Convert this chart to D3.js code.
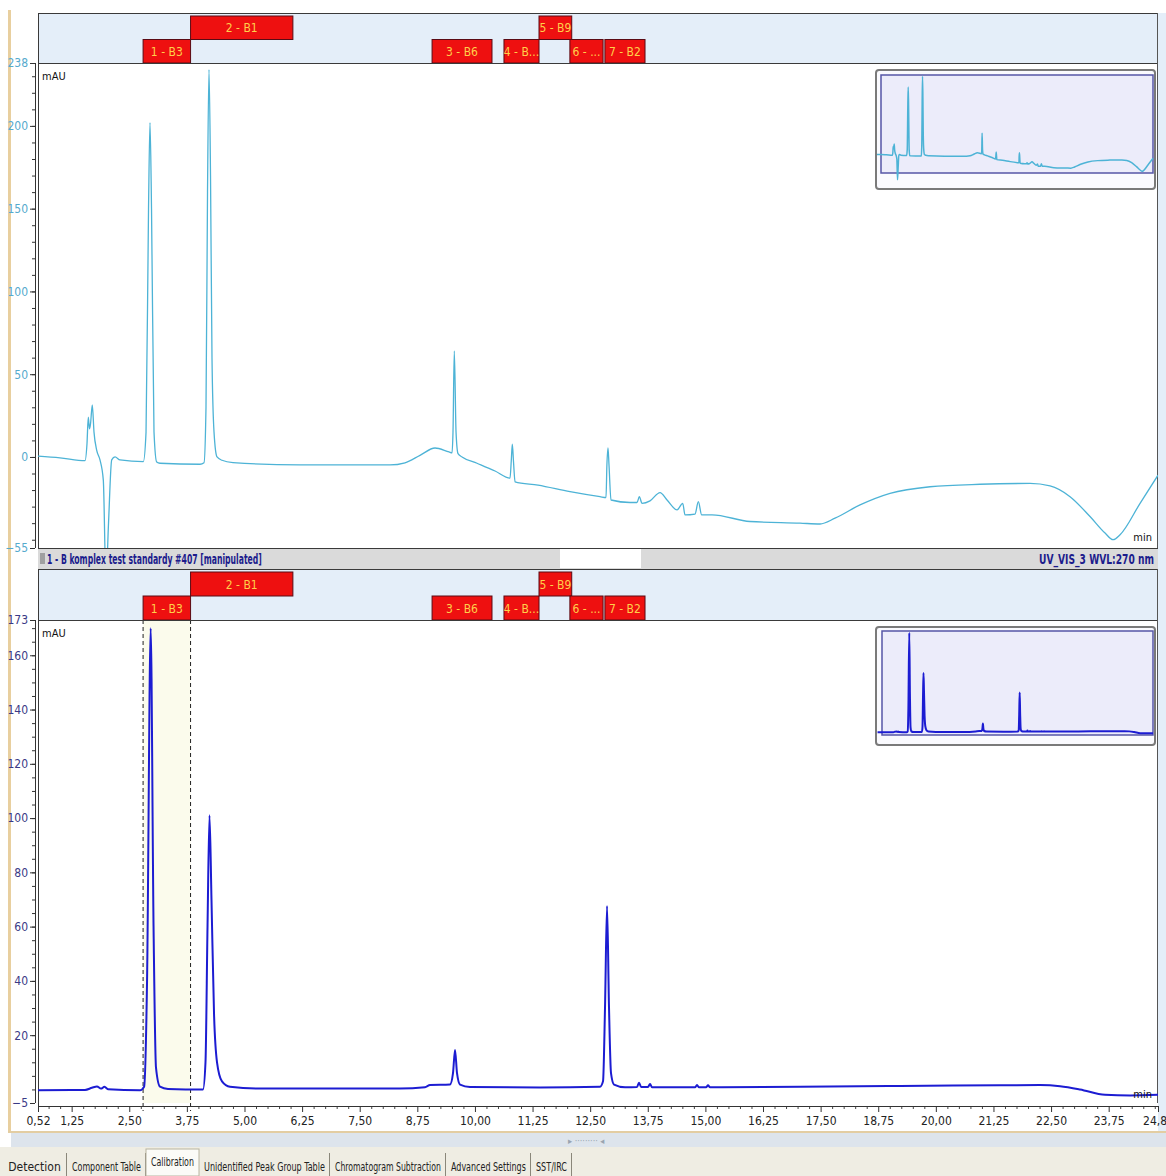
<!DOCTYPE html>
<html>
<head>
<meta charset="utf-8">
<script src="https://cdn.jsdelivr.net/npm/d3@7"></script>
<style>
  body { margin: 0; background: #ffffff; }
  svg { display: block; font-family: 'Liberation Sans Narrow', 'Arial Narrow', 'DejaVu Sans Condensed', sans-serif; }
</style>
</head>
<body>
<svg id="chart" width="1166" height="1176"></svg>
<script>
// ---------- chromatogram data (retention time in min, signal in mAU) ----------
const topTime = [0.520, 0.997, 1.540, 1.583, 1.611, 1.637, 1.659, 1.698, 1.735, 1.794, 1.865, 1.937, 1.995, 2.050, 2.119, 2.191, 2.299, 2.805,
  2.864, 2.918, 2.950, 2.983, 3.037, 3.095, 3.167, 4.035, 4.122, 4.165, 4.198, 4.230, 4.263, 4.295, 4.339, 4.404, 4.512, 4.751,
  6.205, 8.157, 8.483, 8.808, 9.134, 9.438, 9.503, 9.524, 9.552, 9.590, 9.633, 9.720, 10.045, 10.436, 10.761, 10.789, 10.811,
  10.837, 10.870, 11.369, 12.063, 12.714, 12.844, 12.863, 12.887, 12.909, 12.952, 13.365, 13.517, 13.567, 13.625, 13.799,
  14.016, 14.168, 14.385, 14.508, 14.558, 14.775, 14.847, 14.920, 15.144, 15.968, 17.053, 17.487, 17.813, 18.355, 19.006,
  19.874, 20.959, 22.044, 22.478, 22.912, 23.345, 23.671, 23.845, 23.997, 24.431, 24.820];
const topValue = [0.5, -0.5, -2.2, 8, 24, 17, 20, 31.4, 15, 4, -1.8, -14, -75, -40, -1.8, 0, -1.8, -2.8,
  15, 150, 202, 150, 15, -3, -3.8, -4.4, -3.5, 30, 160, 234, 170, 60, 15, 0, -2, -3.4,
  -4.8, -4.8, -3.5, 1, 5.4, 3, 2.5, 15, 64, 15, 2, 0, -3.8, -8.5, -12.8, -2, 7.7,
  -3, -15, -17, -21, -24, -24.5, -5, 5.5, -5, -26, -27.5, -27.5, -24, -28, -26.5,
  -21.5, -26, -32, -28, -35, -34.5, -27, -35, -35, -39, -40, -40.5, -37, -29, -22,
  -18, -16.5, -16, -17.5, -24, -36, -46, -50, -47, -28, -11];

const botTime = [0.520, 1.540, 1.690, 1.800, 1.887, 1.963, 2.039, 2.733, 2.822, 2.886, 2.965, 3.027, 3.080, 3.167, 3.341,
  4.100, 4.154, 4.198, 4.241, 4.284, 4.339, 4.404, 4.512, 4.686, 5.337, 8.374, 8.917, 9.025, 9.459, 9.524, 9.568, 9.611,
  9.677, 9.893, 11.412, 12.714, 12.779, 12.822, 12.866, 12.909, 12.952, 13.018, 13.257, 13.517, 13.560, 13.604, 13.755,
  13.799, 13.842, 14.775, 14.818, 14.862, 15.014, 15.057, 15.101, 17.053, 19.223, 21.393, 22.261, 22.695, 23.129, 23.671,
  24.214, 24.820];
const botValue = [-0.3, -0.2, 0.6, 1.1, 0.3, 1.0, 0.1, -0.3, 1, 40, 170, 60, 8, 1, 0.2,
  0, 10, 60, 101, 70, 28, 10, 3, 1, 0.3, 0.3, 0.8, 1.6, 1.8, 6, 14.5, 6,
  1.8, 0.9, 0.7, 1, 3, 30, 67.6, 30, 6, 1.8, 0.8, 0.9, 2.5, 0.9, 0.9,
  2, 0.8, 0.8, 1.6, 0.8, 0.8, 1.5, 0.8, 1, 1.3, 1.5, 1.6, 1.2, 0, -2,
  -2.2, -2];

// peak identification windows (min) and the row they sit in
const peakLabels = ["1 - B3", "2 - B1", "3 - B6", "4 - B...", "5 - B9", "6 - ...", "7 - B2"];
const peakStart  = [2.80, 3.83, 9.07, 10.63, 11.39, 12.06, 12.82];
const peakEnd    = [3.83, 6.05, 10.37, 11.39, 12.10, 12.78, 13.69];
const peakRow    = [1, 0, 1, 1, 0, 1, 1];

// integration window of the selected peak
const integrationWindow = [2.80, 3.83];

// axis ticks
const xTickValues = [0.52, 1.25, 2.50, 3.75, 5.00, 6.25, 7.50, 8.75, 10.00, 11.25, 12.50, 13.75, 15.00, 16.25, 17.50, 18.75, 20.00, 21.25, 22.50, 23.75, 24.82];
const topTickValues = [238, 200, 150, 100, 50, 0, -55];
const botTickValues = [173, 160, 140, 120, 100, 80, 60, 40, 20, -5];

const sampleTitle = "1 - B komplex test standardy #407 [manipulated]";
const channelTitle = "UV_VIS_3 WVL:270 nm";
const tabNames = ["Detection", "Component Table", "Calibration", "Unidentified Peak Group Table", "Chromatogram Subtraction", "Advanced Settings", "SST/IRC"];

// ---------- layout ----------
const svg = d3.select("#chart");
const L = 38, R = 1158;
const x = d3.scaleLinear().domain([0.52, 24.82]).range([L, R]);

// window background
svg.append("rect").attr("width", 1166).attr("height", 1176).attr("fill", "#ffffff");
svg.append("rect").attr("x", R).attr("y", 13).attr("width", 1166 - R).attr("height", 1118).attr("fill", "#e4eef9");
svg.append("rect").attr("x", 8).attr("y", 10).attr("width", 3).attr("height", 1122).attr("fill", "#e8cf9f");

const defs = svg.append("defs");

const panels = [
  { head: [13, 63], plot: [63, 548], domain: [-55, 238], ticks: topTickValues, minorStep: 10,
    time: topTime, value: topValue, line: "#4db3d6", width: 1.3, label: "#55aacd",
    inset: { outer: [876, 70, 1155, 189], inner: [881, 75, 1153, 173] }, minY: 541, id: "p1" },
  { head: [569, 620], plot: [620, 1103], domain: [-5, 173], ticks: botTickValues, minorStep: 5,
    time: botTime, value: botValue, line: "#1c1cd2", width: 2, label: "#3a3a86",
    inset: { outer: [876, 627, 1155, 745], inner: [882, 631, 1153, 735] }, minY: 1098, id: "p2" }
];

panels.forEach((p, pi) => {
  const y = d3.scaleLinear().domain(p.domain).range([p.plot[1], p.plot[0]]);
  const pts = p.time.map((t, i) => [t, p.value[i]]);

  // header band with peak windows
  svg.append("rect").attr("x", L).attr("y", p.head[0]).attr("width", R - L).attr("height", p.head[1] - p.head[0])
    .attr("fill", "#e4eef9");
  svg.append("line").attr("x1", L).attr("x2", R).attr("y1", p.head[0] + 0.5).attr("y2", p.head[0] + 0.5)
    .attr("stroke", "#3a3a3a").attr("stroke-width", 1.2);
  const rowH = (p.head[1] - p.head[0] - 3) / 2;
  const boxes = svg.append("g");
  peakLabels.forEach((lab, i) => {
    const bx = x(peakStart[i]), bw = x(peakEnd[i]) - x(peakStart[i]);
    const by = p.head[0] + 3 + peakRow[i] * rowH;
    boxes.append("rect").attr("x", bx).attr("y", by).attr("width", bw).attr("height", rowH)
      .attr("fill", "#ee1010").attr("stroke", "#5a0a14").attr("stroke-width", 1);
    boxes.append("text").attr("x", bx + bw / 2).attr("y", by + rowH / 2 + 4.5).attr("text-anchor", "middle")
      .attr("font-size", 12).attr("fill", "#ffcf4a").text(lab);
  });

  // plot area
  svg.append("rect").attr("x", L).attr("y", p.plot[0]).attr("width", R - L).attr("height", p.plot[1] - p.plot[0])
    .attr("fill", "#ffffff");
  defs.append("clipPath").attr("id", "clip-" + p.id).append("rect")
    .attr("x", L).attr("y", p.plot[0]).attr("width", R - L).attr("height", p.plot[1] - p.plot[0]);

  if (pi === 1) {
    // highlighted integration window
    const w0 = x(integrationWindow[0]), w1 = x(integrationWindow[1]);
    svg.append("rect").attr("x", w0).attr("y", p.plot[0]).attr("width", w1 - w0).attr("height", p.plot[1] - p.plot[0])
      .attr("fill", "#fbfbec");
    [w0, w1].forEach(wx => svg.append("line").attr("x1", wx).attr("x2", wx).attr("y1", p.plot[0]).attr("y2", p.plot[1] + 8)
      .attr("stroke", "#222").attr("stroke-width", 1).attr("stroke-dasharray", "4,3"));
  }

  // frame
  svg.append("line").attr("x1", L).attr("x2", R).attr("y1", p.plot[0] + 0.5).attr("y2", p.plot[0] + 0.5).attr("stroke", "#3a3a3a").attr("stroke-width", 1.2);
  svg.append("line").attr("x1", L + 0.5).attr("x2", L + 0.5).attr("y1", p.head[0]).attr("y2", p.plot[1]).attr("stroke", "#3a3a3a");
  svg.append("line").attr("x1", R - 0.5).attr("x2", R - 0.5).attr("y1", p.head[0]).attr("y2", p.plot[1]).attr("stroke", "#555");

  // trace
  const line = d3.line().x(d => x(d[0])).y(d => y(d[1])).curve(d3.curveMonotoneX);
  svg.append("path").datum(pts).attr("d", line).attr("fill", "none").attr("stroke", p.line)
    .attr("stroke-width", p.width).attr("stroke-linejoin", "round").attr("clip-path", "url(#clip-" + p.id + ")");

  // y axis (major + minor)
  const minor = d3.range(Math.ceil(p.domain[0] / p.minorStep) * p.minorStep, p.domain[1], p.minorStep);
  const gMinor = svg.append("g").attr("transform", "translate(35,0)")
    .call(d3.axisLeft(y).tickValues(minor).tickSize(3).tickFormat(""));
  gMinor.select(".domain").remove();
  gMinor.selectAll("line").attr("stroke", "#333");
  const gMajor = svg.append("g").attr("transform", "translate(35,0)")
    .call(d3.axisLeft(y).tickValues(p.ticks).tickSize(5).tickPadding(2).tickSizeOuter(0).tickFormat(d3.format("d")));
  gMajor.select(".domain").attr("stroke", "#333").attr("d", `M0.5,${p.plot[0]}V${p.plot[1]}`);
  gMajor.selectAll("line").attr("stroke", "#333");
  gMajor.selectAll("text").attr("fill", p.label).attr("font-size", 12)
    .attr("font-family", "'Liberation Sans Narrow','Arial Narrow','DejaVu Sans Condensed',sans-serif");

  // unit labels
  svg.append("text").attr("x", 42).attr("y", p.plot[0] + 17).attr("font-size", 11).attr("fill", "#111").text("mAU");
  svg.append("text").attr("x", R - 6).attr("y", p.minY).attr("text-anchor", "end").attr("font-size", 11).attr("fill", "#111").text("min");

  // overview inset
  const o = p.inset.outer, n = p.inset.inner;
  svg.append("rect").attr("x", o[0]).attr("y", o[1]).attr("width", o[2] - o[0]).attr("height", o[3] - o[1]).attr("rx", 3)
    .attr("fill", "#fafafe").attr("stroke", "#7a7a7a").attr("stroke-width", 2);
  svg.append("rect").attr("x", n[0]).attr("y", n[1]).attr("width", n[2] - n[0]).attr("height", n[3] - n[1])
    .attr("fill", "#ececfa").attr("stroke", "#5656a6").attr("stroke-width", 1.5);
  const xi = d3.scaleLinear().domain(x.domain()).range([n[0], n[2]]);
  const yi = d3.scaleLinear().domain(p.domain).range([n[3], n[1]]);
  defs.append("clipPath").attr("id", "clipi-" + p.id).append("rect")
    .attr("x", o[0] + 1).attr("y", o[1] + 1).attr("width", o[2] - o[0] - 2).attr("height", o[3] - o[1] - 2);
  const lineI = d3.line().x(d => xi(d[0])).y(d => yi(d[1])).curve(d3.curveMonotoneX);
  svg.append("path").datum([[x.domain()[0] - 0.4, p.value[0]]].concat(pts)).attr("d", lineI).attr("fill", "none")
    .attr("stroke", p.line).attr("stroke-width", pi === 0 ? 1.5 : 2).attr("clip-path", "url(#clipi-" + p.id + ")");
});

// horizontally condense a text element to a target width, keeping its glyph height
function condense(sel, x0, width) {
  const natural = sel.node().getComputedTextLength();
  const k = Math.min(1, width / natural);
  sel.attr("x", 0).attr("transform", `translate(${x0},0) scale(${k},1)`);
}

// ---------- channel / sample title bar between panels ----------
const bar = svg.append("g");
bar.append("rect").attr("x", L).attr("y", 548).attr("width", R - L).attr("height", 21).attr("fill", "#dadada");
bar.append("rect").attr("x", 560).attr("y", 549).attr("width", 81).attr("height", 19).attr("fill", "#ffffff");
bar.append("line").attr("x1", L).attr("x2", R).attr("y1", 548.5).attr("y2", 548.5).attr("stroke", "#3a3a3a").attr("stroke-width", 1.2);
bar.append("rect").attr("x", 40).attr("y", 553).attr("width", 5).attr("height", 11).attr("fill", "#a0a0a0");
const t1 = bar.append("text").attr("y", 564).attr("font-size", 14).attr("font-weight", "bold").attr("fill", "#1c1c8c").text(sampleTitle);
condense(t1, 47, 215);
const t2 = bar.append("text").attr("y", 564).attr("font-size", 14).attr("font-weight", "bold").attr("fill", "#1c1c8c").text(channelTitle);
condense(t2, 1039, 115);

// ---------- time axis ----------
const xMinor = d3.range(0.75, 24.82, 0.25).filter(v => !xTickValues.some(t => Math.abs(t - v) < 0.01));
const gxMinor = svg.append("g").attr("transform", "translate(0,1106)")
  .call(d3.axisBottom(x).tickValues(xMinor).tickSize(3).tickFormat(""));
gxMinor.select(".domain").remove();
gxMinor.selectAll("line").attr("stroke", "#444");
const gx = svg.append("g").attr("transform", "translate(0,1106)")
  .call(d3.axisBottom(x).tickValues(xTickValues).tickSize(6).tickSizeOuter(0).tickPadding(4)
    .tickFormat(d => d3.format(".2f")(d).replace(".", ",")));
gx.select(".domain").attr("stroke", "#333");
gx.selectAll("line").attr("stroke", "#333");
gx.selectAll("text").attr("fill", "#222").attr("font-size", 12)
  .attr("font-family", "'Liberation Sans Narrow','Arial Narrow','DejaVu Sans Condensed',sans-serif");
svg.append("line").attr("x1", L + 0.5).attr("x2", L + 0.5).attr("y1", 1103).attr("y2", 1106).attr("stroke", "#333");

// ---------- scroll strip and tab bar ----------
svg.append("rect").attr("x", 8).attr("y", 1131).attr("width", 1158).attr("height", 2).attr("fill", "#e3cda2");
svg.append("rect").attr("x", 11).attr("y", 1133).attr("width", 1155).attr("height", 14).attr("fill", "#dde4ec");
svg.append("text").attr("x", 568).attr("y", 1144).attr("font-size", 9).attr("fill", "#9aa4b0").text("▸  ·········  ◂");
svg.append("rect").attr("x", 0).attr("y", 1147).attr("width", 1166).attr("height", 29).attr("fill", "#efede3");

const tabEdges = [2, 67, 146, 199, 330, 446, 531, 572];
const tabs = svg.append("g");
tabNames.forEach((name, i) => {
  const x0 = tabEdges[i], x1 = tabEdges[i + 1];
  const active = name === "Calibration";
  if (active) {
    tabs.append("rect").attr("x", x0).attr("y", 1149).attr("width", x1 - x0).attr("height", 27).attr("fill", "#fbfbf7")
      .attr("stroke", "#b8b4a0");
  } else {
    tabs.append("line").attr("x1", x1 - 0.5).attr("x2", x1 - 0.5).attr("y1", 1153).attr("y2", 1176).attr("stroke", "#8a877a");
  }
  const t = tabs.append("text").attr("y", active ? 1166 : 1171).attr("font-size", 12).attr("fill", "#222").text(name);
  const avail = x1 - x0 - 10;
  const w = Math.min(avail, t.node().getComputedTextLength());
  condense(t, (x0 + x1) / 2 - w / 2, avail);
});
</script>
</body>
</html>
